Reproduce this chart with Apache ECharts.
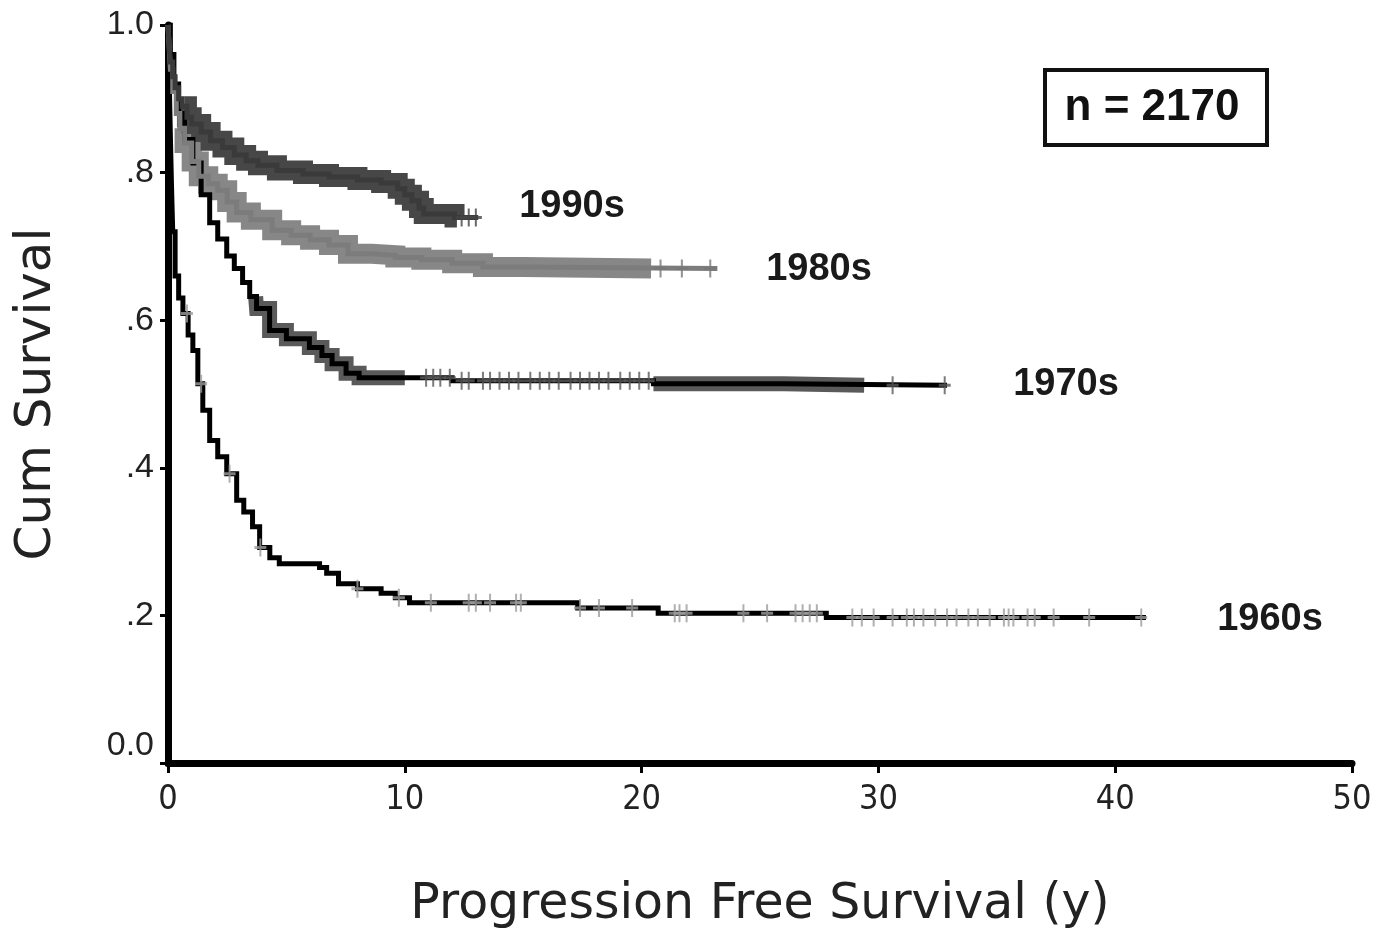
<!DOCTYPE html>
<html>
<head>
<meta charset="utf-8">
<title>Progression Free Survival by decade</title>
<script src="https://cdn.jsdelivr.net/npm/echarts@6/dist/echarts.min.js"></script>
<style>
  html, body { margin: 0; padding: 0; background: #fff; }
  #chart { width: 1376px; height: 935px; }
</style>
</head>
<body>
<div id="chart"></div>
<script>
// Kaplan-Meier steps [years, cum survival]
const steps1960s = [[0,1.0],[0.05,0.93],[0.1,0.85],[0.15,0.78],[0.2,0.72],[0.3,0.66],[0.45,0.63],[0.63,0.609],[0.85,0.58],[1.05,0.559],[1.26,0.514],[1.47,0.478],[1.76,0.437],[2.1,0.415],[2.48,0.392],[2.9,0.356],[3.2,0.34],[3.57,0.32],[3.87,0.292],[4.3,0.278],[4.7,0.27],[6.4,0.265],[6.7,0.257],[7.2,0.243],[8.0,0.236],[9.0,0.23],[9.6,0.224],[10.2,0.217],[17.3,0.21],[20.7,0.203],[27.8,0.197],[41.3,0.197]];
const steps1970s = [[0,1.0],[0.1,0.96],[0.25,0.92],[0.45,0.88],[0.7,0.845],[1.05,0.813],[1.4,0.77],[1.76,0.732],[2.1,0.71],[2.48,0.687],[2.8,0.67],[3.15,0.651],[3.45,0.632],[3.74,0.616],[4.29,0.586],[5.0,0.575],[5.97,0.563],[6.5,0.552],[6.93,0.541],[7.52,0.528],[8.07,0.522],[12.0,0.518],[20.5,0.514],[26.0,0.512],[32.9,0.512]];
const steps1980s = [[0,1.0],[0.05,0.97],[0.1,0.94],[0.2,0.91],[0.35,0.88],[0.5,0.86],[0.7,0.84],[1.0,0.815],[1.3,0.795],[1.7,0.785],[2.1,0.776],[2.5,0.76],[2.9,0.746],[3.5,0.736],[4.4,0.722],[5.2,0.715],[6.0,0.709],[6.8,0.702],[7.6,0.69],[8.6,0.688],[9.6,0.685],[10.7,0.682],[12.0,0.677],[13.3,0.672],[15.0,0.67],[23.2,0.67]];
const steps1990s = [[0,1.0],[0.05,0.97],[0.1,0.95],[0.2,0.93],[0.3,0.915],[0.45,0.9],[0.6,0.89],[0.8,0.875],[1.0,0.866],[1.4,0.855],[1.8,0.843],[2.3,0.834],[2.8,0.824],[3.3,0.816],[3.8,0.81],[4.6,0.803],[5.7,0.798],[6.8,0.794],[8.0,0.79],[9.0,0.786],[9.7,0.778],[10.0,0.77],[10.3,0.762],[10.6,0.752],[10.8,0.744],[12.1,0.739],[13.1,0.739]];

// censored cases (single "+" marks)
const censor1960s = [0.8,1.4,2.6,3.9,8.0,9.75,11.1,12.7,13.0,13.6,14.7,14.9,17.4,18.2,19.6,21.4,21.6,21.9,24.3,25.3,26.5,26.8,27.1,27.4,28.9,29.3,29.8,30.6,31.2,31.5,31.9,32.4,32.9,33.3,33.8,34.2,34.7,35.3,35.5,35.7,36.3,36.6,37.4,38.9,41.1];
const censor1970s = [10.9,11.2,11.5,11.9,12.4,12.7,13.3,13.6,14.0,14.4,14.8,15.3,15.7,16.1,16.5,17.0,17.4,17.8,18.2,18.6,19.1,19.5,19.9,20.3,30.6,32.8];
const censor1980s = [20.8,21.7,22.9];
const censor1990s = [12.4,12.7,13.0];

// stretches where censor marks run together into a solid band
const bands1960s = [];
const bands1970s = [[3.7,10.0],[20.5,29.4]];
const bands1980s = [[0.6,20.4]];
const bands1990s = [[0.7,12.2]];

const cohortNames = ['1960s', '1970s', '1980s', '1990s'];
const yTickLabels = ['0.0', '.2', '.4', '.6', '.8', '1.0'];
const totalN = 2170;

const cohorts = [
  { name: '1960s', steps: steps1960s, censor: censor1960s, bands: bands1960s, line: '#000', band: '#555', mark: '#9c9c9c', bandW: 12 },
  { name: '1970s', steps: steps1970s, censor: censor1970s, bands: bands1970s, line: '#000', band: '#5a5a5a', mark: '#5a5a5a', bandW: 15 },
  { name: '1980s', steps: steps1980s, censor: censor1980s, bands: bands1980s, line: '#7c7c7c', band: '#878787', mark: '#777', bandW: 20 },
  { name: '1990s', steps: steps1990s, censor: censor1990s, bands: bands1990s, line: '#3a3a3a', band: '#474747', mark: '#444', bandW: 20 }
];

function survivalAt(steps, t) {
  let s = steps[0][1];
  for (const p of steps) {
    if (p[0] <= t) s = p[1]; else break;
  }
  return s;
}

function clip(steps, a, b) {
  const pts = [[a, survivalAt(steps, a)]];
  steps.forEach(p => { if (p[0] > a && p[0] < b) pts.push(p); });
  pts.push([b, survivalAt(steps, b)]);
  return pts;
}

const plus = 'path://M5,0H7V12H5Z M0,5H12V7H0Z';

const series = [];
cohorts.forEach(c => {
  c.bands.forEach(b => {
    series.push({
      type: 'line', step: 'end', showSymbol: false, silent: true, z: 2,
      data: clip(c.steps, b[0], b[1]),
      lineStyle: { color: c.band, width: c.bandW, cap: 'butt', join: 'miter' }
    });
  });
  series.push({
    name: c.name, type: 'line', step: 'end', showSymbol: false, z: 3,
    data: c.steps,
    lineStyle: { color: c.line, width: 5, join: 'miter' }
  });
  series.push({
    type: 'scatter', symbol: plus, symbolSize: [12, 18], z: 4,
    itemStyle: { color: c.mark },
    data: c.censor.map(t => [t, survivalAt(c.steps, t)])
  });
});

// label positions on the canvas
const labelPos = { '1990s': [572, 207], '1980s': [819, 270], '1970s': [1066, 385], '1960s': [1270, 620] };
const graphics = cohortNames.map(n => ({
  type: 'text', x: labelPos[n][0], y: labelPos[n][1],
  style: { text: n, font: 'bold 38px "Liberation Sans", Arial, sans-serif', fill: '#1a1a1a', align: 'center', verticalAlign: 'middle' }
}));
graphics.push({
  type: 'rect', shape: { x: 1045, y: 70, width: 222, height: 75 },
  style: { fill: '#fff', stroke: '#111', lineWidth: 4 }
});
graphics.push({
  type: 'text', x: 1152, y: 108,
  style: { text: 'n = ' + totalN, font: 'bold 44px "Liberation Sans", Arial, sans-serif', fill: '#111', align: 'center', verticalAlign: 'middle' }
});

const chart = echarts.init(document.getElementById('chart'));
chart.setOption({
  animation: false,
  backgroundColor: '#fff',
  grid: { left: 168, right: 24, top: 25, bottom: 172 },
  xAxis: {
    type: 'value', min: 0, max: 50, interval: 10,
    name: 'Progression Free Survival (y)', nameLocation: 'middle', nameGap: 118,
    nameTextStyle: { fontSize: 49, fontFamily: 'DejaVu Sans', color: '#222' },
    axisLine: { show: true, lineStyle: { color: '#000', width: 7 } },
    axisTick: { show: true, length: 10, lineStyle: { color: '#000', width: 3 } },
    axisLabel: { fontSize: 34, fontFamily: '"Liberation Sans Narrow", "DejaVu Sans Condensed", sans-serif', color: '#222', margin: 20 },
    splitLine: { show: false }
  },
  yAxis: {
    type: 'value', min: 0, max: 1, interval: 0.2,
    name: 'Cum Survival', nameLocation: 'middle', nameGap: 106,
    nameTextStyle: { fontSize: 50, fontFamily: 'DejaVu Sans', color: '#222' },
    axisLine: { show: true, lineStyle: { color: '#000', width: 7 } },
    axisTick: { show: true, length: 8, lineStyle: { color: '#000', width: 3 } },
    axisLabel: {
      fontSize: 34, fontFamily: '"Liberation Sans", Arial, sans-serif', color: '#222', margin: 14,
      formatter: v => {
        const i = Math.round(v / 0.2);
        return i === 0 ? '{min|' + yTickLabels[0] + '}' : yTickLabels[i];
      },
      rich: { min: { fontSize: 34, fontFamily: '"Liberation Sans", Arial, sans-serif', color: '#222', padding: [0, 0, 34, 0] } }
    },
    splitLine: { show: false }
  },
  graphic: graphics,
  series: series
});
</script>
</body>
</html>
